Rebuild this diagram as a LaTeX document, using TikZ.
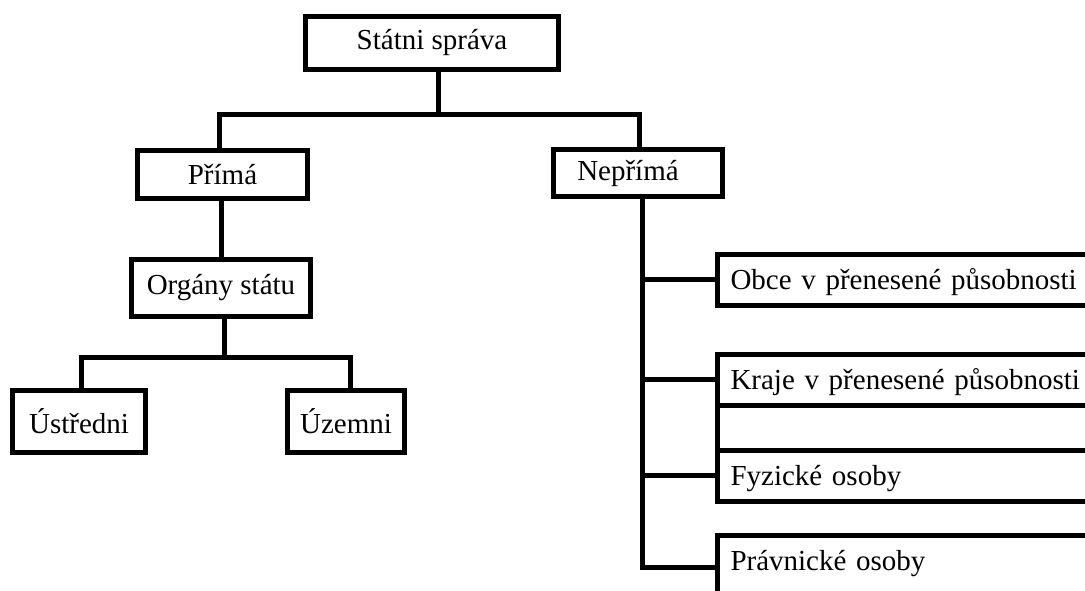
\documentclass[tikz,border=0pt]{standalone}
\usepackage{fontspec}
\setmainfont{Liberation Serif}
\begin{document}
\begin{tikzpicture}[x=1pt,y=-1pt,
  box/.style={draw=black, line width=5pt, rectangle, inner sep=0pt, fill=white,
    font=\fontsize{29}{34}\selectfont},
  conn/.style={draw=black, line width=5pt},
  rbox/.style={box, anchor=west, align=left, inner xsep=13pt, text width=369pt,
    minimum width=395pt, text height=20pt, text depth=0pt}]
\useasboundingbox (0,0) rectangle (1085,590);
\clip (0,0) rectangle (1085,590);

% left tree
\node[box, minimum width=253.5pt, minimum height=53.5pt] (top) at (432,43) {Státni správa};
\node[box, minimum width=170.5pt, minimum height=48.5pt] (prima) at (222.5,174.5) {Přímá};
\node[box, minimum width=169.5pt, minimum height=47.5pt, align=left,
      text width=121.5pt, inner xsep=24pt] (neprima) at (638,173) {Nepřímá};
\node[box, minimum width=179.5pt, minimum height=57.5pt] (organy) at (221,288) {Orgány státu};
\node[box, minimum width=133.5pt, minimum height=62.5pt] (ustr) at (79,421.5) {Ústředni};
\node[box, minimum width=117.5pt, minimum height=62.5pt] (uzem) at (346,421.5) {Územni};

% right column
\node[rbox, minimum height=51pt] (obce) at (715,279.5) {Obce v přenesené působnosti};
\node[rbox, minimum height=51pt] (kraje) at (715,379.5) {Kraje v přenesené působnosti};
\node[rbox, minimum height=45pt] (empty) at (715,427.5) {};
\node[rbox, minimum height=51pt] (fyz) at (715,475.5) {Fyzické osoby};
\node[rbox, minimum height=64pt, text depth=14pt] (prav) at (715,567) {Právnické osoby};

% connectors
\coordinate (jt) at (438,114);
\coordinate (jl) at (219,114);
\coordinate (jr) at (639,114);
\draw[conn] (jt |- top.south) -- (jt);
\draw[conn] (jl |- prima.north) -- (jl) -- (jr) -- (jr |- neprima.north);

\draw[conn] (organy.north) -- (organy.north |- prima.south);

\coordinate (ja) at (224,357);
\coordinate (jb) at (81,357);
\coordinate (jc) at (350,357);
\draw[conn] (ja |- organy.south) -- (ja);
\draw[conn] (jb |- ustr.north) -- (jb) -- (jc) -- (jc |- uzem.north);

\coordinate (tr) at (642,0);
\draw[conn] (tr |- neprima.south) -- (tr |- prav.west) -- (prav.west);
\draw[conn] (tr |- obce.west) -- (obce.west);
\draw[conn] (tr |- kraje.west) -- (kraje.west);
\draw[conn] (tr |- fyz.west) -- (fyz.west);
\end{tikzpicture}
\end{document}
